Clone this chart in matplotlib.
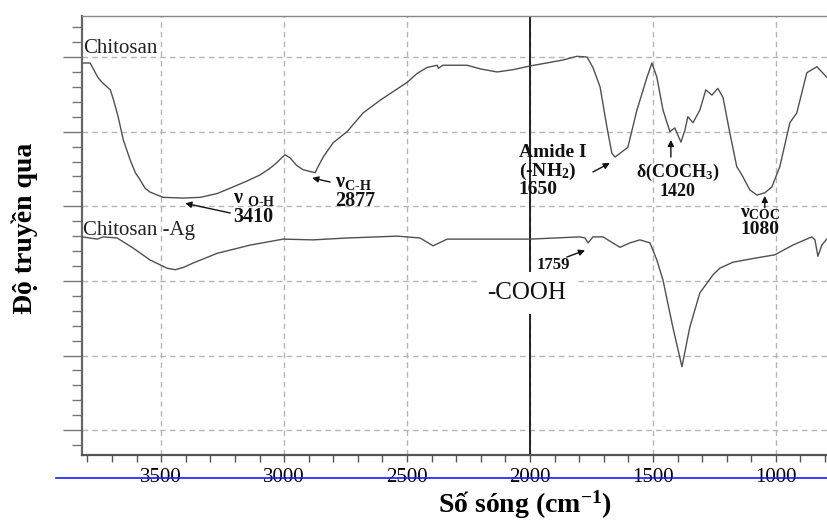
import matplotlib
matplotlib.use("Agg")
import matplotlib.pyplot as plt
from matplotlib.ticker import MultipleLocator
from matplotlib.lines import Line2D

plt.rcParams['font.family'] = ['Liberation Serif', 'DejaVu Serif']
plt.rcParams['mathtext.fontset'] = 'custom'
plt.rcParams['mathtext.rm'] = 'Liberation Serif'
plt.rcParams['mathtext.bf'] = 'Liberation Serif:bold'
plt.rcParams['mathtext.it'] = 'Liberation Serif:italic'

# ---- data (wavenumber cm-1, transmittance a.u.) ----
chitosan_wn = [3817, 3789, 3776, 3756, 3740, 3707, 3695, 3675, 3654, 3626, 3605, 3585,
               3565, 3545, 3492, 3411, 3341, 3273, 3207, 3150, 3098, 3057, 3028, 3010,
               2996, 2976, 2950, 2923, 2874, 2862, 2841, 2801, 2744, 2679, 2610, 2500,
               2459, 2419, 2378, 2372, 2354, 2256, 2200, 2134, 2070, 2000, 1866, 1809,
               1768, 1744, 1715, 1687, 1667, 1654, 1626, 1602, 1565, 1524, 1504, 1484,
               1459, 1431, 1411, 1402, 1386, 1370, 1358, 1337, 1309, 1285, 1260, 1236,
               1215, 1187, 1159, 1138, 1106, 1077, 1045, 1016, 984, 943, 915, 874, 833, 793]
chitosan_T = [59.2, 59.2, 58.4, 57.2, 56.6, 55.6, 54.4, 52.0, 48.9, 46.2, 44.5, 43.5,
              42.4, 41.9, 41.2, 41.1, 41.2, 41.7, 42.6, 43.4, 44.2, 45.1, 45.9, 46.5,
              46.9, 46.5, 45.5, 44.9, 44.5, 45.3, 46.6, 48.5, 50.0, 52.5, 54.2, 56.6,
              57.8, 58.6, 58.9, 58.5, 58.9, 58.9, 58.4, 58.0, 58.3, 58.8, 59.6, 60.1,
              60.0, 58.6, 56.0, 50.6, 47.1, 46.6, 47.3, 47.9, 52.9, 57.3, 59.2, 57.3,
              52.9, 50.0, 50.5, 49.8, 48.6, 50.2, 52.0, 51.2, 52.9, 55.6, 54.9, 55.8,
              54.6, 49.8, 45.3, 44.2, 42.2, 41.5, 41.8, 42.6, 45.3, 51.2, 52.5, 57.9, 58.7, 57.3]

ag_wn = [3821, 3760, 3736, 3679, 3614, 3545, 3476, 3443, 3410, 3370, 3272, 3138, 3004,
         2882, 2744, 2541, 2447, 2394, 2337, 2203, 2000, 1797, 1776, 1764, 1744,
         1703, 1634, 1593, 1553, 1512, 1484, 1459, 1419, 1382, 1350, 1309, 1256,
         1228, 1175, 1093, 1004, 931, 882, 854, 841, 829, 813, 793]
ag_T = [35.9, 35.6, 35.9, 35.75, 34.4, 32.8, 31.7, 31.5, 31.8, 32.4, 33.7, 34.8, 35.6,
        35.5, 35.75, 36.0, 35.75, 34.7, 35.6, 35.6, 35.6, 35.9, 35.75, 35.1, 35.9,
        35.9, 34.5, 35.1, 35.5, 35.1, 32.8, 30.1, 23.8, 18.5, 23.8, 28.4, 30.8,
        31.7, 32.5, 33.0, 33.5, 34.8, 35.5, 35.9, 35.5, 33.3, 34.8, 35.6]

x_major = [1000, 1500, 2000, 2500, 3000, 3500]
x_labels = ['1000', '1500', '2000', '2500', '3000', '3500']

fig = plt.figure(figsize=(8.27, 5.25), dpi=100)
ax = fig.add_axes([82/827, 1 - 455/525, 745/827, (455 - 16)/525])

curve_col = '#505050'
ax.plot(chitosan_wn, chitosan_T, color=curve_col, lw=1.0, zorder=3)
ax.plot(ag_wn, ag_T, color=curve_col, lw=1.0, zorder=3)

ax.set_xlim(3822, 792)
ax.set_ylim(6.67, 65.5)

ax.set_xticks(x_major)
ax.set_xticklabels(x_labels)
ax.xaxis.set_minor_locator(MultipleLocator(100))
ax.yaxis.set_major_locator(MultipleLocator(10))
ax.yaxis.set_minor_locator(MultipleLocator(2))
ax.set_yticklabels([])

ax.tick_params(axis='x', which='both', direction='out', length=5, width=1,
               color='#555555', labelsize=15, pad=4)
ax.tick_params(axis='y', which='major', direction='out', length=14, width=1, color='#777777')
ax.tick_params(axis='y', which='minor', direction='out', length=7, width=1, color='#777777')

ax.grid(True, which='major', color='#b5b5b5', linestyle=(0, (4, 3)), lw=1.0, zorder=0)

# solid vertical line at 2000
ax.axvline(2000, color='#222222', lw=1.4, zorder=2)

ax.spines['right'].set_visible(False)
ax.spines['left'].set_color('#666666')
ax.spines['left'].set_linewidth(1.6)
ax.spines['bottom'].set_color('#555555')
ax.spines['bottom'].set_linewidth(1.6)
ax.spines['top'].set_color('#888888')
ax.spines['top'].set_linewidth(1.0)

# axis labels
fig.text(525/827, 1 - 505/525, 'Số sóng (cm$^{\\mathbf{-1}}$)', ha='center', va='center',
         fontsize=20, fontweight='bold')
fig.text(25/827, 1 - 228/525, 'Độ truyền qua', rotation=90, ha='center', va='center',
         fontsize=20, fontweight='bold')

# blue line across bottom
fig.add_artist(Line2D([56/827, 1.0], [1 - 478/525, 1 - 478/525], color='#1a1aff', lw=1.2))

# curve names
ax.text(3817, 61.1, 'Chitosan', fontsize=15, ha='left', va='center', color='#222222')
ax.text(3817, 36.8, 'Chitosan -Ag', fontsize=15, ha='left', va='center', color='#222222')

bold = dict(fontweight='bold', color='#111111')
arrow = dict(arrowstyle='-|>', color='#111111', lw=1.0, mutation_scale=9, shrinkA=0, shrinkB=0)

# O-H
ax.text(3207, 39.85, 'ν $_{\\mathbf{O\u2010H}}$\n3410', fontsize=14.5, ha='left', va='center',
        linespacing=0.9, **bold)
ax.annotate('', xy=(3402, 40.4), xytext=(3219, 39.1), arrowprops=arrow)

# C-H
ax.text(2793, 42.0, 'ν$_{\\mathbf{C\u2010H}}$\n2877', fontsize=14.5, ha='left', va='center',
        linespacing=0.9, **bold)
ax.annotate('', xy=(2886, 43.8), xytext=(2813, 43.25), arrowprops=arrow)

# Amide I
ax.text(2045, 44.7, 'Amide I\n(-NH$_{\\mathbf{2}}$)\n1650', fontsize=14, ha='left', va='center',
        linespacing=0.95, **bold)
ax.annotate('', xy=(1675, 45.8), xytext=(1744, 44.6), arrowprops=arrow)

# COCH3
ax.text(1400, 43.4, 'δ(COCH$_{\\mathbf{3}}$)\n1420', fontsize=13, ha='center', va='center',
        linespacing=1.05, **bold)
ax.annotate('', xy=(1427, 48.9), xytext=(1427, 46.6), arrowprops=arrow)

# COC
ax.text(1065, 38.0, 'ν$_{\\mathbf{COC}}$\n1080', fontsize=14, ha='center', va='center',
        linespacing=0.95, **bold)
ax.annotate('', xy=(1045, 41.4), xytext=(1045, 39.8), arrowprops=arrow)

# 1759
ax.text(1906, 32.1, '1759', fontsize=12, ha='center', va='center', **bold)
ax.annotate('', xy=(1776, 34.1), xytext=(1850, 33.2), arrowprops=arrow)

# -COOH
ax.text(2012, 28.4, '-COOH', fontsize=18, ha='center', va='center', color='#111111',
        zorder=4, bbox=dict(facecolor='white', edgecolor='none', pad=7))

fig.savefig('out.png', dpi=100)
